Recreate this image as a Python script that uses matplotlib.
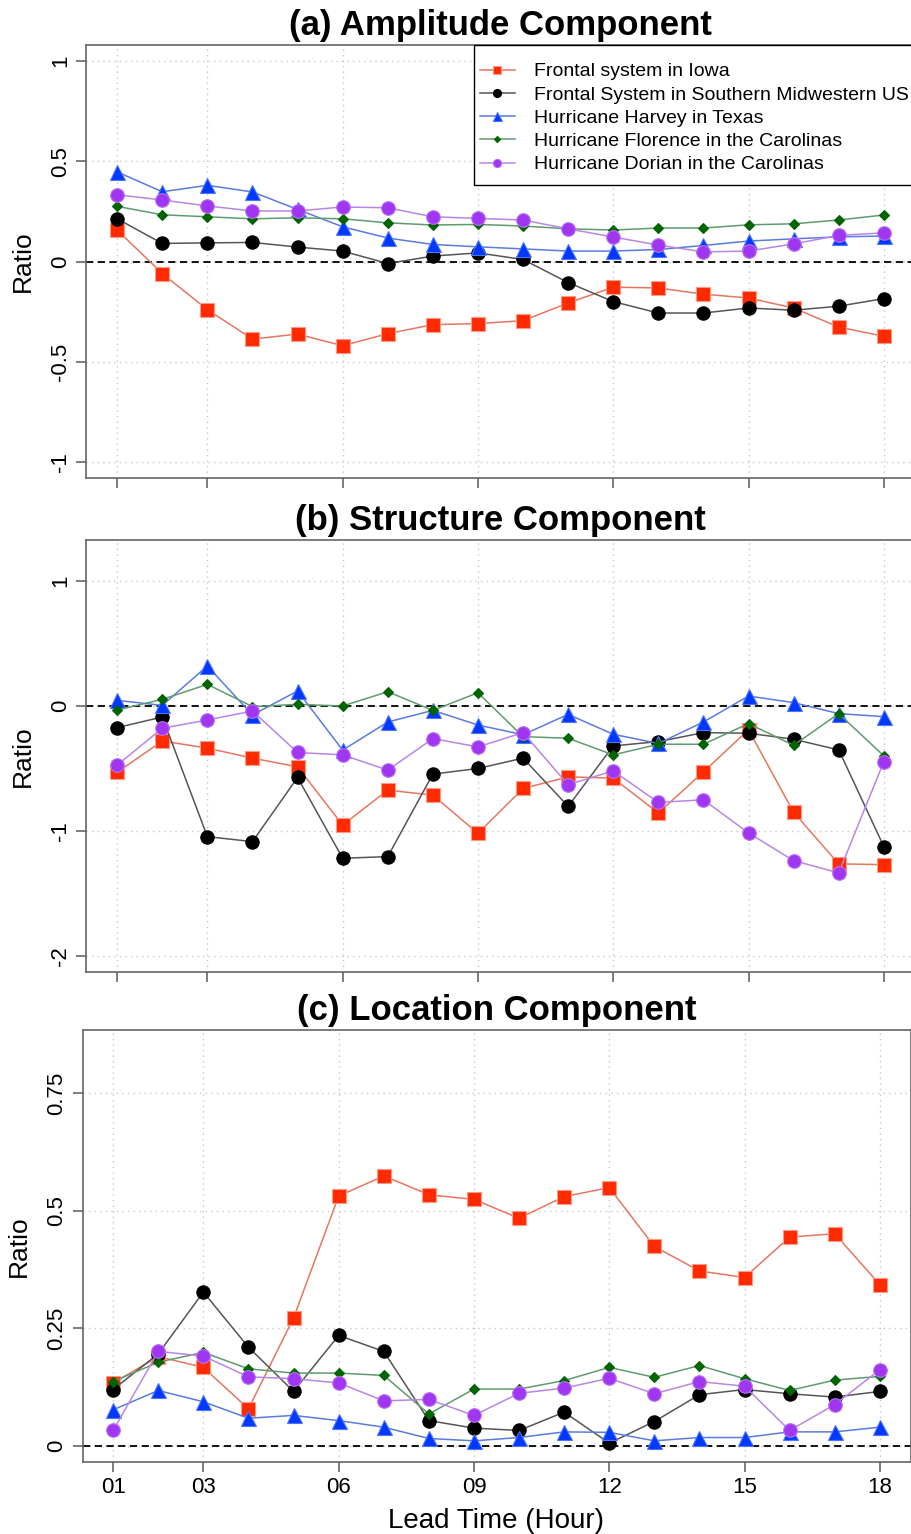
import matplotlib
matplotlib.use('Agg')
import matplotlib.pyplot as plt
from matplotlib.patches import Rectangle

plt.rcParams['font.family'] = ['Liberation Sans', 'DejaVu Sans']
plt.rcParams['axes.unicode_minus'] = False

# ---- data ----
hours = [1, 2, 3, 4, 5, 6, 7, 8, 9, 10, 11, 12, 13, 14, 15, 16, 17, 18]
x_ticks = [1, 3, 6, 9, 12, 15, 18]
x_ticklabels = ['01', '03', '06', '09', '12', '15', '18']

names = ['Frontal system in Iowa',
         'Frontal System in Southern Midwestern US',
         'Hurricane Harvey in Texas',
         'Hurricane Florence in the Carolinas',
         'Hurricane Dorian in the Carolinas']

# (a) amplitude
amp_iowa = [0.157, -0.06, -0.24, -0.387, -0.362, -0.42, -0.36, -0.315, -0.31,
            -0.295, -0.207, -0.128, -0.132, -0.163, -0.182, -0.232, -0.327, -0.373]
amp_midwest = [0.213, 0.09, 0.093, 0.095, 0.072, 0.052, -0.01, 0.027, 0.043,
               0.01, -0.105, -0.2, -0.257, -0.257, -0.232, -0.243, -0.223, -0.185]
amp_harvey = [0.447, 0.348, 0.38, 0.347, 0.26, 0.173, 0.117, 0.085, 0.073,
              0.063, 0.052, 0.052, 0.06, 0.08, 0.102, 0.113, 0.123, 0.127]
amp_florence = [0.275, 0.233, 0.223, 0.213, 0.218, 0.213, 0.193, 0.182, 0.185,
                0.177, 0.163, 0.157, 0.167, 0.167, 0.183, 0.188, 0.207, 0.232]
amp_dorian = [0.333, 0.307, 0.277, 0.252, 0.252, 0.272, 0.268, 0.223, 0.215,
              0.207, 0.163, 0.122, 0.082, 0.048, 0.052, 0.088, 0.13, 0.143]

# (b) structure
str_iowa = [-0.53, -0.28, -0.337, -0.417, -0.487, -0.952, -0.673, -0.713, -1.019,
            -0.66, -0.567, -0.577, -0.856, -0.527, -0.19, -0.851, -1.263, -1.269]
str_midwest = [-0.173, -0.088, -1.045, -1.085, -0.572, -1.218, -1.205, -0.545, -0.5,
               -0.417, -0.803, -0.319, -0.285, -0.213, -0.218, -0.266, -0.351, -1.125]
str_harvey = [0.045, 0.005, 0.32, -0.072, 0.12, -0.353, -0.128, -0.035, -0.152,
              -0.23, -0.067, -0.226, -0.3, -0.128, 0.08, 0.027, -0.061, -0.085]
str_florence = [-0.032, 0.053, 0.173, -0.005, 0.013, 0.0, 0.114, -0.035, 0.106,
                -0.245, -0.258, -0.391, -0.306, -0.306, -0.141, -0.314, -0.061, -0.399]
str_dorian = [-0.473, -0.178, -0.112, -0.04, -0.372, -0.391, -0.513, -0.261, -0.327,
              -0.213, -0.63, -0.519, -0.772, -0.75, -1.016, -1.237, -1.335, -0.445]

# (c) location
loc_iowa = [0.134, 0.19, 0.167, 0.079, 0.272, 0.531, 0.574, 0.534, 0.524,
            0.484, 0.530, 0.549, 0.424, 0.372, 0.358, 0.444, 0.451, 0.343]
loc_midwest = [0.12, 0.196, 0.327, 0.21, 0.116, 0.235, 0.201, 0.054, 0.038,
               0.033, 0.072, 0.006, 0.052, 0.109, 0.12, 0.111, 0.104, 0.116]
loc_harvey = [0.077, 0.118, 0.094, 0.059, 0.065, 0.054, 0.04, 0.016, 0.011,
              0.018, 0.03, 0.029, 0.011, 0.018, 0.018, 0.03, 0.03, 0.04]
loc_florence = [0.137, 0.178, 0.199, 0.164, 0.155, 0.155, 0.15, 0.068, 0.121,
                0.121, 0.139, 0.167, 0.146, 0.171, 0.143, 0.118, 0.14, 0.148]
loc_dorian = [0.033, 0.201, 0.191, 0.147, 0.143, 0.134, 0.096, 0.099, 0.065,
              0.112, 0.123, 0.144, 0.111, 0.137, 0.127, 0.033, 0.088, 0.162]

# 线条/标记样式: (line color, marker, marker face, marker edge, size)
styles = [('#E8765F', 's', '#FF2A00', '#FF9A88', 9.7),
          ('#555555', 'o', '#000000', '#000000', 9.6),
          ('#5A7BE0', '^', '#0038FF', '#4F74FF', 10.8),
          ('#5E9C6E', 'D', '#006400', '#006400', 5.2),
          ('#B886E6', 'o', '#A036F0', '#B870F5', 9.8)]


def draw_panel(ax, series, title, yticks, yticklabels, ylim, show_x=False):
    """画一个分量面板"""
    for vals, name, (lc, mk, mfc, mec, ms) in zip(series, names, styles):
        ax.plot(hours, vals, color=lc, lw=1.1, marker=mk, markersize=ms,
                markerfacecolor=mfc, markeredgecolor=mec, markeredgewidth=0.8,
                label=name, zorder=3)
    ax.axhline(0, color='black', ls=(0, (4, 2.5)), lw=1.3, zorder=2)

    ax.set_xlim(0.32, 18.68)
    ax.set_ylim(*ylim)
    ax.set_xticks(x_ticks)
    ax.set_yticks(yticks)
    ax.set_yticklabels(yticklabels, rotation=90, va='center', fontsize=16)
    if show_x:
        ax.set_xticklabels(x_ticklabels, fontsize=16)
        ax.set_xlabel('Lead Time (Hour)', fontsize=20, labelpad=7)
    else:
        ax.set_xticklabels([])

    ax.grid(True, color='#c8c8c8', ls=(0, (1, 3)), lw=1.0, zorder=0)
    ax.set_axisbelow(True)
    for sp in ax.spines.values():
        sp.set_color('#666666')
        sp.set_linewidth(1.2)
    ax.tick_params(length=7, width=1.2, color='#666666', pad=4)
    ax.set_ylabel('Ratio', fontsize=19, labelpad=11)
    ax.set_title(title, fontsize=25, fontweight='bold', pad=7)


fig = plt.figure(figsize=(9.12, 15.34), dpi=100)
W, H = 912.0, 1534.0

ax1 = fig.add_axes([86.5 / W, 1 - 478 / H, 828 / W, 433 / H])
ax2 = fig.add_axes([86.5 / W, 1 - 972 / H, 828 / W, 432 / H])
ax3 = fig.add_axes([82.5 / W, 1 - 1462 / H, 828 / W, 432 / H])

draw_panel(ax1, [amp_iowa, amp_midwest, amp_harvey, amp_florence, amp_dorian],
           '(a) Amplitude Component', [-1, -0.5, 0, 0.5, 1],
           ['-1', '-0.5', '0', '0.5', '1'], (-1.08, 1.08))
draw_panel(ax2, [str_iowa, str_midwest, str_harvey, str_florence, str_dorian],
           '(b) Structure Component', [-2, -1, 0, 1],
           ['-2', '-1', '0', '1'], (-2.128, 1.328))
draw_panel(ax3, [loc_iowa, loc_midwest, loc_harvey, loc_florence, loc_dorian],
           '(c) Location Component', [0, 0.25, 0.5, 0.75],
           ['0', '0.25', '0.5', '0.75'], (-0.034, 0.884), show_x=True)

# 图例框（R 风格，左右留白小、上下留白大）
box = Rectangle((0.468, 0.677), 0.54, 0.323, transform=ax1.transAxes,
                facecolor='white', edgecolor='black', lw=1.0,
                zorder=4.5, clip_on=False)
ax1.add_patch(box)
leg = ax1.legend(loc='upper left', bbox_to_anchor=(0.475, 0.959),
                 fontsize=14, frameon=False, borderpad=0, borderaxespad=0,
                 markerscale=0.6, handlelength=1.8, handletextpad=1.0,
                 labelspacing=0.29)
leg.set_zorder(5)

fig.savefig('out.png', dpi=100)
